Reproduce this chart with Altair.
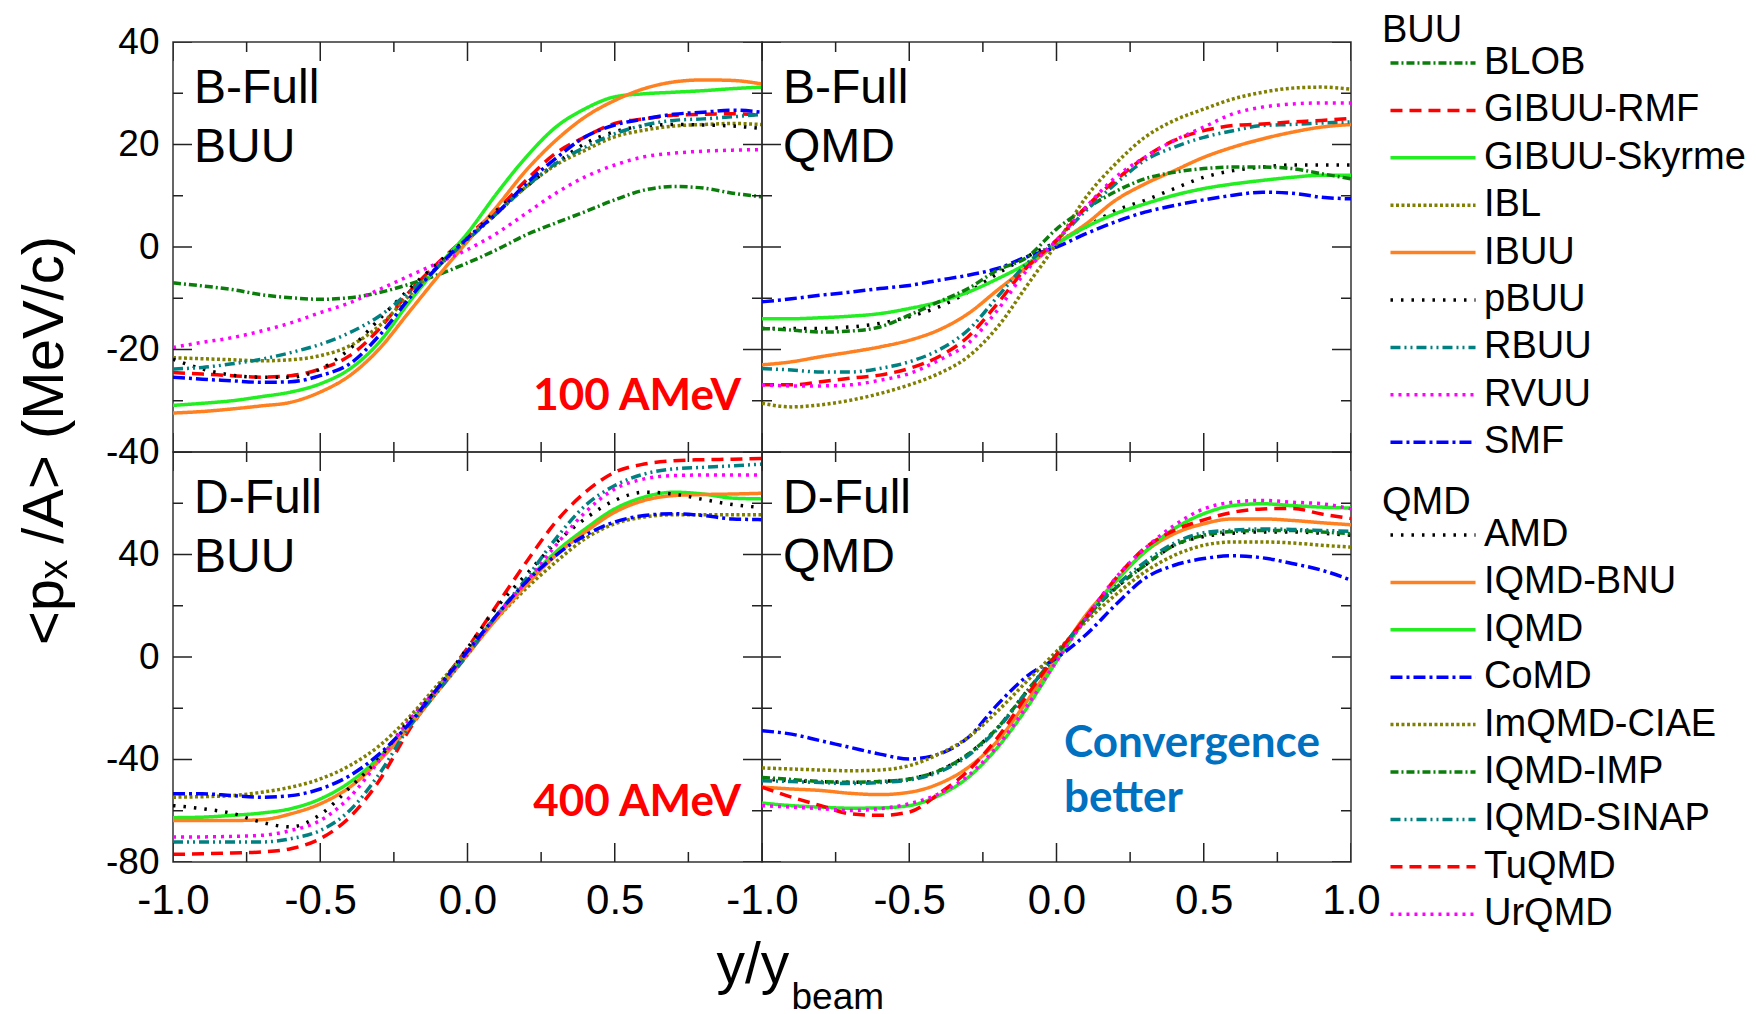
import altair as alt
import pandas as pd

# ---------------- data ----------------
X = [-1.0, -0.9, -0.8, -0.7, -0.6, -0.5, -0.4, -0.3, -0.2, -0.1, 0.0,
     0.1, 0.2, 0.3, 0.4, 0.5, 0.6, 0.7, 0.8, 0.9, 1.0]

BUU_MODELS = ["BLOB", "GIBUU-RMF", "GIBUU-Skyrme", "IBL", "IBUU", "pBUU", "RBUU", "RVUU", "SMF"]
QMD_MODELS = ["AMD", "IQMD-BNU", "IQMD", "CoMD", "ImQMD-CIAE", "IQMD-IMP", "IQMD-SINAP", "TuQMD", "UrQMD"]

BUU_COLORS = ["#0b7d0b", "#ff0000", "#22ee22", "#808000", "#ff8020", "#000000", "#008080", "#ff00ff", "#0000ff"]
QMD_COLORS = ["#000000", "#ff8020", "#22ee22", "#0000ff", "#808000", "#0b7d0b", "#008080", "#ff0000", "#ff00ff"]
BUU_DASH = [[8, 3, 2, 3], [12, 7], [1, 0], [3, 2.5], [1, 0], [2.5, 8], [10, 4, 2, 4, 2, 4], [3, 5], [12, 4, 3, 4]]
QMD_DASH = [[2.5, 8], [1, 0], [1, 0], [12, 4, 3, 4], [3, 2.5], [8, 3, 2, 3], [10, 4, 2, 4, 2, 4], [12, 7], [3, 5]]

# B-Full, BUU, 100 AMeV
B_BUU = {
    "BLOB": [-7.0, -7.6, -8.3, -9.3, -9.9, -10.2, -9.9, -8.9, -7.3, -5.4, -3.1, -0.5, 2.4, 4.7, 6.9, 9.2, 11.1, 11.8, 11.5, 10.5, 9.8],
    "GIBUU-RMF": [-24.5, -24.8, -25.1, -25.4, -25.1, -23.8, -21.2, -16.0, -8.9, -3.1, 2.1, 7.2, 13.1, 18.3, 21.5, 24.1, 25.0, 25.7, 25.9, 26.0, 25.7],
    "GIBUU-Skyrme": [-30.9, -30.5, -30.0, -29.2, -28.3, -26.7, -23.8, -18.6, -10.9, -3.8, 2.7, 10.5, 17.6, 23.4, 27.0, 29.3, 29.9, 30.2, 30.5, 30.9, 31.2],
    "IBL": [-21.6, -21.8, -22.0, -22.2, -22.0, -21.2, -19.3, -15.4, -9.6, -3.8, 1.4, 6.6, 11.8, 16.0, 18.9, 21.5, 22.8, 23.6, 23.9, 24.1, 23.9],
    "IBUU": [-32.4, -32.1, -31.6, -31.0, -30.3, -28.3, -25.1, -19.9, -12.8, -5.7, 1.1, 7.9, 15.0, 20.8, 25.4, 28.6, 30.9, 32.2, 32.6, 32.5, 31.8],
    "pBUU": [-21.9, -23.8, -25.0, -25.4, -25.4, -23.8, -19.9, -14.1, -8.3, -3.1, 1.7, 7.2, 11.8, 16.3, 20.2, 22.5, 23.6, 23.9, 23.8, 23.6, 23.1],
    "RBUU": [-23.8, -23.5, -22.8, -21.9, -20.6, -19.0, -16.7, -13.5, -8.9, -3.8, 1.4, 6.6, 11.8, 16.3, 19.5, 22.1, 23.8, 24.7, 25.0, 25.4, 25.9],
    "RVUU": [-19.6, -18.6, -17.7, -16.4, -14.8, -12.8, -10.9, -8.3, -5.7, -3.1, -0.5, 2.7, 6.6, 10.5, 13.7, 16.0, 17.6, 18.3, 18.7, 18.9, 19.0],
    "SMF": [-25.4, -25.8, -26.1, -26.4, -26.3, -25.1, -22.8, -17.3, -10.2, -3.8, 1.7, 6.6, 12.4, 17.3, 21.5, 23.8, 25.0, 25.9, 26.3, 26.7, 26.3],
}

# B-Full, QMD, 100 AMeV
B_QMD = {
    "AMD": [-15.9, -15.9, -15.9, -15.6, -14.9, -13.6, -11.7, -8.8, -5.2, -1.9, 1.0, 3.9, 7.1, 9.1, 11.4, 13.6, 14.9, 15.6, 16.0, 16.0, 16.0],
    "IQMD-BNU": [-23.0, -22.4, -21.4, -20.5, -19.5, -18.2, -16.2, -13.0, -8.4, -3.9, 0.6, 4.5, 9.1, 12.3, 14.9, 17.5, 19.5, 21.1, 22.4, 23.4, 23.9],
    "IQMD": [-14.0, -14.0, -13.8, -13.5, -13.0, -12.0, -10.7, -8.8, -6.2, -3.2, 0.6, 3.9, 6.5, 8.4, 10.1, 11.4, 12.3, 13.0, 13.6, 14.0, 14.0],
    "CoMD": [-10.7, -10.1, -9.4, -8.8, -8.1, -7.5, -6.5, -5.5, -4.2, -1.9, 0.0, 2.6, 4.9, 6.8, 8.1, 9.2, 10.1, 10.7, 10.5, 9.7, 9.4],
    "ImQMD-CIAE": [-30.5, -31.2, -30.8, -29.9, -28.6, -26.9, -24.7, -21.4, -15.6, -7.5, 0.6, 9.7, 16.2, 21.4, 24.7, 26.9, 28.9, 30.2, 31.0, 31.2, 30.8],
    "IQMD-IMP": [-15.9, -16.2, -16.6, -16.4, -15.6, -13.3, -10.7, -8.1, -4.5, -2.0, 3.5, 7.5, 10.8, 13.3, 14.6, 15.3, 15.6, 15.6, 15.3, 14.3, 13.3],
    "IQMD-SINAP": [-23.7, -24.0, -24.4, -24.4, -23.7, -22.4, -20.1, -16.2, -9.7, -3.2, 1.3, 7.1, 12.3, 16.9, 19.5, 21.4, 22.7, 23.7, 23.9, 24.2, 24.4],
    "TuQMD": [-26.9, -26.9, -26.3, -25.6, -25.0, -23.7, -21.4, -17.5, -11.0, -3.9, 1.3, 7.8, 13.0, 17.5, 20.8, 22.7, 23.7, 24.0, 24.4, 24.7, 25.1],
    "UrQMD": [-26.9, -27.1, -27.1, -26.9, -26.0, -24.7, -22.1, -18.8, -12.3, -4.5, 1.3, 7.8, 13.6, 17.5, 20.8, 23.4, 26.0, 27.3, 27.9, 28.1, 28.1],
}

# D-Full, BUU, 400 AMeV
D_BUU = {
    "GIBUU-RMF": [-77.0, -76.8, -76.5, -76.1, -74.8, -70.9, -62.5, -48.3, -28.8, -12.0, 3.5, 20.3, 37.1, 52.7, 64.3, 72.1, 75.3, 76.6, 77.0, 77.2, 77.5],
    "GIBUU-Skyrme": [-62.7, -62.5, -61.8, -60.9, -59.2, -55.4, -48.9, -39.2, -26.3, -12.0, 2.2, 16.4, 29.4, 41.0, 50.0, 57.8, 62.4, 64.3, 63.6, 62.0, 61.7],
    "IBL": [-54.7, -54.5, -54.1, -52.8, -50.8, -47.6, -42.4, -34.7, -23.7, -10.7, 2.2, 15.1, 26.8, 37.1, 46.2, 52.0, 54.6, 55.5, 55.5, 55.5, 55.5],
    "IBUU": [-63.8, -63.8, -63.8, -63.5, -61.2, -57.3, -50.8, -40.5, -27.6, -13.3, 0.9, 15.1, 28.1, 39.7, 48.8, 56.5, 61.1, 63.0, 63.4, 63.6, 63.9],
    "pBUU": [-58.0, -59.2, -61.0, -64.5, -66.3, -61.5, -51.0, -39.5, -25.0, -12.0, 3.5, 19.5, 32.3, 44.5, 54.0, 61.1, 64.3, 63.6, 61.5, 59.5, 58.3],
    "RBUU": [-72.2, -72.2, -72.2, -72.2, -70.9, -67.7, -59.9, -45.7, -27.6, -13.3, 0.9, 16.4, 30.7, 46.2, 59.1, 66.9, 71.4, 73.4, 74.0, 74.6, 75.3],
    "RVUU": [-70.2, -70.2, -70.0, -69.6, -67.7, -63.8, -54.7, -40.5, -25.0, -12.0, 1.6, 16.4, 29.4, 43.6, 56.5, 65.6, 69.5, 70.8, 71.0, 71.0, 71.0],
    "SMF": [-53.4, -53.4, -54.1, -54.7, -54.1, -51.5, -46.3, -37.9, -26.3, -12.0, 2.2, 16.4, 29.4, 39.7, 47.5, 52.7, 55.2, 55.9, 55.2, 53.9, 53.6],
}

# D-Full, QMD, 400 AMeV
D_QMD = {
    "AMD": [-47.6, -48.3, -48.6, -48.9, -48.6, -47.6, -44.4, -37.9, -27.6, -13.3, 0.9, 15.1, 26.8, 35.8, 43.6, 47.0, 48.3, 48.8, 48.8, 48.3, 47.5],
    "IQMD-BNU": [-50.8, -51.5, -52.1, -53.2, -53.7, -52.8, -49.5, -43.1, -32.7, -17.2, -0.4, 16.4, 29.4, 41.0, 48.1, 52.0, 53.9, 53.9, 53.3, 52.4, 51.6],
    "IQMD": [-57.0, -58.0, -58.6, -59.0, -58.9, -58.0, -54.1, -47.0, -35.3, -19.8, -1.7, 15.1, 29.4, 41.0, 50.1, 55.9, 59.1, 59.8, 59.1, 58.5, 58.1],
    "CoMD": [-28.8, -30.1, -32.7, -35.3, -37.9, -39.8, -37.9, -31.4, -18.5, -7.5, -0.4, 8.7, 20.3, 30.7, 35.8, 38.4, 39.5, 38.7, 36.5, 33.9, 30.0],
    "ImQMD-CIAE": [-43.3, -43.7, -44.1, -44.4, -44.1, -42.4, -37.9, -31.4, -21.1, -9.4, 2.2, 13.8, 24.2, 33.2, 39.7, 43.6, 44.9, 44.9, 44.5, 43.6, 42.9],
    "IQMD-IMP": [-47.0, -47.8, -48.6, -48.9, -48.6, -47.6, -44.4, -37.9, -27.6, -13.3, 0.9, 15.1, 26.8, 35.8, 43.6, 47.5, 49.0, 49.4, 49.4, 48.8, 48.1],
    "IQMD-SINAP": [-48.3, -48.6, -49.0, -49.4, -49.0, -48.0, -45.0, -38.5, -28.0, -13.5, 0.9, 15.1, 27.5, 37.0, 44.5, 48.5, 49.5, 50.0, 49.8, 49.4, 49.0],
    "TuQMD": [-50.8, -54.7, -58.0, -61.2, -61.8, -60.5, -53.4, -44.4, -31.4, -15.0, 0.9, 15.5, 30.5, 42.5, 49.4, 53.5, 56.5, 57.8, 58.0, 55.8, 54.0],
    "UrQMD": [-58.0, -58.6, -59.2, -59.9, -59.2, -57.3, -53.4, -46.3, -34.7, -19.1, -1.7, 15.1, 30.7, 42.3, 51.4, 57.8, 60.4, 61.1, 60.4, 59.8, 57.8],
}

XT_MAJOR = [-1.0, -0.5, 0.0, 0.5, 1.0]
XT_MINOR = [-0.75, -0.25, 0.25, 0.75]
YT_MAJOR_B = [-40, -20, 0, 20, 40]
YT_MINOR_B = [-30, -10, 10, 30]
YT_MAJOR_D = [-80, -40, 0, 40, 80]
YT_MINOR_D = [-60, -20, 20, 60]
YLAB_B = [-40, -20, 0, 20, 40]
YLAB_D = [-80, -40, 0, 40]
XLAB_L = [-1.0, -0.5, 0.0, 0.5]
XLAB_R = [-1.0, -0.5, 0.0, 0.5, 1.0]

# ---------------- style ----------------
F = "Liberation Sans"
FB = "Lato"
W, H = 589, 410
NEG_INT = "datum.value < 0 ? '-' + format(-datum.value, 'd') : format(datum.value, 'd')"
NEG_1F = "datum.value < 0 ? '-' + format(-datum.value, '.1f') : format(datum.value, '.1f')"
IND = dict(x="independent", y="independent", color="independent", strokeDash="independent")
LEG_X = 1209


def long_df(series, models):
    rows = []
    for m in models:
        if m in series:
            for xv, yv in zip(X, series[m]):
                rows.append({"x": xv, "y": yv, "model": m})
    return pd.DataFrame(rows)


def mk_legend(title, lx, ly):
    return alt.Legend(
        title=title, orient="none", legendX=lx, legendY=ly, direction="vertical",
        symbolType="M-4,0H4", symbolSize=452, symbolStrokeWidth=3.5, symbolOffset=32,
        labelFont=F, labelFontSize=38, labelColor="black", labelOffset=32, labelLimit=600,
        titleFont=F, titleFontSize=38, titleFontWeight="normal", titleColor="black",
        titlePadding=-6, rowPadding=9.4, padding=0,
    )


def x_axis(values, title, tx, ty, tsize):
    return alt.Axis(
        values=values, labelExpr=NEG_1F, ticks=False, domain=False, grid=False,
        labelFont=F, labelFontSize=42, labelColor="black", labelPadding=18,
        labelFlush=False, labelOverlap=False,
        title=title, titleFont=F, titleFontSize=tsize, titleFontWeight="normal", titleColor="black",
        titleX=tx, titleY=ty, titleAlign="left", titleBaseline="alphabetic", titleAngle=0,
    )


def y_axis(values, with_title):
    kw = dict(
        values=values, labelExpr=NEG_INT, ticks=False, domain=False, grid=False,
        labelFont=F, labelFontSize=37, labelColor="black", labelPadding=14,
        labelFlush=False, labelOverlap=False,
    )
    if with_title:
        kw.update(title="<p\u2093 /A> (MeV/c)", titleFont=F, titleFontSize=58, titleFontWeight="normal",
                  titleColor="black", titleX=-128, titleY=398, titleAngle=270,
                  titleAlign="center", titleBaseline="middle")
    else:
        kw.update(title=None)
    return alt.Axis(**kw)


def text_layer(lines, px, py, size, color, font, weight, align="left", lh=0):
    kw = dict(text=lines, align=align, baseline="alphabetic", font=font, fontSize=size,
              fontWeight=weight, color=color)
    if lh:
        kw["lineHeight"] = lh
    return alt.Chart(pd.DataFrame({"a": [0]})).mark_text(**kw).encode(x=alt.value(px), y=alt.value(py))


def panel(series, models, colors, dashes, ydom, ymaj, ymin, xaxis, yaxis, legend, texts):
    df = long_df(series, models)
    xs = alt.Scale(domain=[-1, 1], nice=False, zero=False)
    ys = alt.Scale(domain=ydom, nice=False, zero=False)
    lines = alt.Chart(df).mark_line(strokeWidth=3.5, interpolate="monotone", clip=True).encode(
        x=alt.X("x:Q", scale=xs, axis=xaxis),
        y=alt.Y("y:Q", scale=ys, axis=yaxis),
        color=alt.Color("model:N", scale=alt.Scale(domain=models, range=colors), legend=legend),
        strokeDash=alt.StrokeDash("model:N", scale=alt.Scale(domain=models, range=dashes), legend=legend),
    )
    layers = [lines]
    # inward tick marks on all four frame edges (same axis spec so the layer axes merge)
    for vals, ln in ((XT_MAJOR, 19), (XT_MINOR, 10)):
        d = pd.DataFrame({"t": vals})
        for edge in ydom:
            layers.append(alt.Chart(d).mark_tick(orient="vertical", size=2 * ln, thickness=1.5,
                                                 color="#222", clip=True, opacity=1).encode(
                x=alt.X("t:Q", scale=xs, axis=xaxis),
                y=alt.YDatum(edge, scale=ys, axis=yaxis)))
    for vals, ln in ((ymaj, 19), (ymin, 10)):
        d = pd.DataFrame({"t": vals})
        for edge in (-1, 1):
            layers.append(alt.Chart(d).mark_tick(orient="horizontal", size=2 * ln, thickness=1.5,
                                                 color="#222", clip=True, opacity=1).encode(
                y=alt.Y("t:Q", scale=ys, axis=yaxis),
                x=alt.XDatum(edge, scale=xs, axis=xaxis)))
    layers += texts
    return alt.layer(*layers).properties(width=W, height=H)


def panel_label(l1, l2):
    return text_layer([l1, l2], 21, 61, 48, "black", F, "normal", lh=59)


tl = panel(B_BUU, BUU_MODELS, BUU_COLORS, BUU_DASH, [-40, 40], YT_MAJOR_B, YT_MINOR_B,
           None, y_axis(YLAB_B, True), mk_legend("BUU", LEG_X, -30),
           [panel_label("B-Full", "BUU"),
            text_layer("100 AMeV", 568, 368, 44, "#ff0000", FB, "bold", align="right")])
tr = panel(B_QMD, QMD_MODELS, QMD_COLORS, QMD_DASH, [-40, 40], YT_MAJOR_B, YT_MINOR_B,
           None, None, mk_legend("QMD", LEG_X - W, 442),
           [panel_label("B-Full", "QMD")])
bl = panel(D_BUU, BUU_MODELS, BUU_COLORS, BUU_DASH, [-80, 80], YT_MAJOR_D, YT_MINOR_D,
           x_axis(XLAB_L, "y/y", 543, 120, 57), y_axis(YLAB_D, False), None,
           [panel_label("D-Full", "BUU"),
            text_layer("400 AMeV", 568, 364, 44, "#ff0000", FB, "bold", align="right")])
br = panel(D_QMD, QMD_MODELS, QMD_COLORS, QMD_DASH, [-80, 80], YT_MAJOR_D, YT_MINOR_D,
           x_axis(XLAB_R, "beam", 29, 146, 37), None, None,
           [panel_label("D-Full", "QMD"),
            text_layer(["Convergence", "better"], 302, 305, 44, "#0070c0", FB, "bold", lh=55)])

chart = alt.concat(tl, tr, bl, br, columns=2, spacing=0, bounds="flush").resolve_scale(**IND).properties(
    padding={"left": 15, "top": 11, "right": 0, "bottom": 0}, background="white"
).configure_view(stroke="#333", strokeWidth=1.5)

chart.save("out.html", embed_options={"renderer": "svg", "actions": False})
